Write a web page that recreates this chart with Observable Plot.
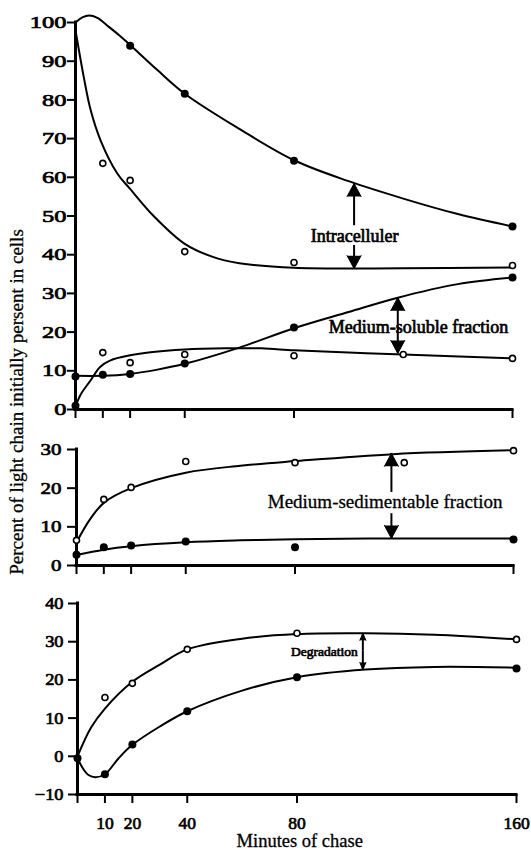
<!DOCTYPE html>
<html><head><meta charset="utf-8">
<script src="https://cdn.jsdelivr.net/npm/d3@7"></script>
<script src="https://cdn.jsdelivr.net/npm/@observablehq/plot@0.6"></script>
<style>
body{margin:0;background:#fff;}
#wrap{position:relative;width:531px;height:852px;font-family:"Liberation Serif",serif;overflow:hidden;}
.panel{position:absolute;left:0;}
.panel svg text{font-family:"Liberation Serif","Times New Roman",serif !important;font-weight:normal !important;}
.panel svg g[aria-label="y-axis tick label"] text,
.panel svg g[aria-label="x-axis tick label"] text{stroke:#000;stroke-width:0.7px;}
.panel svg .boldish text{stroke:#000;stroke-width:0.7px;}
#ytitle{position:absolute;left:17px;top:402px;transform:translate(-50%,-50%) rotate(-90deg);white-space:nowrap;font-size:19px;color:#000;-webkit-text-stroke:0.3px #000;}
</style></head><body>
<div id="wrap">
<div id="p1" class="panel" style="top:0px"></div>
<div id="p2" class="panel" style="top:430px"></div>
<div id="p3" class="panel" style="top:580px"></div>
<div id="ytitle">Percent of light chain initially persent in cells</div>
</div>
<script>
// ---------- data (minutes, percent) ----------
const xTicks = [0, 10, 20, 40, 80, 160];
const xTickLabels = [10, 20, 40, 80, 160];
const yTicks1 = [0, 10, 20, 30, 40, 50, 60, 70, 80, 90, 100];
const yTicks2 = [0, 10, 20, 30];
const yTicks3 = [-10, 0, 10, 20, 30, 40];

// Panel 1: intracellular
const intraFilledDots = [[20, 94], [40, 81.6], [80, 64.3], [160, 47.3]];
const intraOpenDots = [[10, 63.6], [20, 59.2], [40, 40.8], [80, 38], [160, 37.2]];
const intraFilledCurve = [[0, 100], [2.5, 101.3], [5, 101.8], [8, 101.2], [12, 99], [16, 96.7], [20, 94.2], [30, 87.7], [40, 81.6], [60, 72.5], [80, 64.4], [100, 59], [120, 54.5], [140, 50.5], [160, 47.3]];
const intraOpenCurve = [[0, 98], [3, 86], [5.5, 77.5], [9.2, 69.5], [15.3, 61], [20, 57], [28.6, 50], [40, 42.8], [50, 39.5], [60, 37.8], [80, 36.6], [120, 36.5], [160, 36.7]];
// Panel 1: medium-soluble
const solubleFilledDots = [[0, 8.5], [10, 9.0], [20, 9.2], [40, 11.9], [80, 21.2], [160, 34.1], [0, 1.0]];
const solubleOpenDots = [[10, 14.7], [20, 12.1], [40, 14.2], [80, 13.9], [120, 14.2], [160, 13.2]];
const solubleFilledCurve = [[0, 8.7], [10, 8.7], [20, 9.2], [30, 10.3], [40, 11.8], [60, 16], [80, 21], [100, 25.2], [118, 28.9], [140, 32.4], [160, 34.1]];
const solubleOpenCurve = [[0, 0.8], [2, 4], [5.5, 7.5], [9, 11], [12.8, 12.7], [20, 14], [27.5, 14.8], [40, 15.5], [55, 15.8], [68, 15.8], [80, 15.3], [100, 14.7], [120, 14.2], [160, 13.2]];

// Panel 2: medium-sedimentable
const sedOpenDots = [[0, 6.5], [10, 17.1], [20, 20.2], [40, 26.9], [80, 26.6], [120, 26.6], [160, 29.7]];
const sedFilledDots = [[0, 2.8], [10, 4.7], [20, 5.2], [40, 6.2], [80, 4.7], [160, 6.7]];
const sedOpenCurve = [[0, 6], [5, 12], [10, 16.2], [20, 20], [40, 24], [60, 25.8], [80, 27], [116, 28.8], [160, 29.8]];
const sedFilledCurve = [[0, 2.7], [10, 4.1], [20, 5], [40, 6], [60, 6.5], [80, 6.8], [120, 7], [160, 7]];

// Panel 3: degradation
const degOpenDots = [[10, 15.4], [20, 19.1], [40, 28.0], [80, 32.2], [160, 30.6]];
const degFilledDots = [[0, -0.5], [10, -4.7], [20, 3.1], [40, 11.8], [80, 20.7], [160, 23.0]];
const degOpenCurve = [[0, 0], [5, 7.6], [10, 12.5], [20, 19.5], [30, 24], [40, 28], [60, 30.8], [80, 32], [105, 32.2], [130, 31.8], [160, 30.6]];
const degFilledCurve = [[0, -0.5], [2, -3.2], [4, -4.9], [6.5, -5.5], [10, -4.7], [15, -0.5], [20, 3], [30, 7.8], [40, 11.8], [60, 17.2], [80, 20.7], [105, 22.7], [130, 23.4], [160, 23.2]];

// annotation arrows: [minute, shaft start, tip]
const arrows1 = [[102, 47.5, 58.4], [102, 42.4, 36.4], [118, 21.6, 28.9], [118, 21.6, 14.5]];
const arrows2 = [[115.3, 18.9, 29.0], [115.3, 13.4, 7.0]];
const arrows3 = [[104, 27.5, 32.2], [104, 27.5, 22.7]];
const labels1 = [[102.2, 44.7, "Intracelluler"], [125.6, 21.2, "Medium-soluble fraction"]];
const labels2 = [[113, 16.5, "Medium-sedimentable fraction"]];
const labels3 = [[90, 27.5, "Degradation"]];

const FONT = "Liberation Serif";
const X = d => d[0], Y = d => d[1];

function dots(filled, open) {
  return [
    Plot.dot(filled, {x: X, y: Y, r: 4, fill: "black", stroke: "none"}),
    Plot.dot(open, {x: X, y: Y, r: 3, fill: "white", stroke: "black", strokeWidth: 1.6})
  ];
}
function curves(list) {
  return list.map(c => Plot.line(c, {x: X, y: Y, curve: "catmull-rom", stroke: "black", strokeWidth: 2}));
}
function arrowMarks(arr, headLen, headR) {
  return [
    Plot.ruleX(arr, {x: d => d[0], y1: d => d[1], y2: d => d[2], stroke: "black", strokeWidth: 2}),
    Plot.vector(arr, {x: d => d[0], y: d => d[2], length: headLen, r: headR, shape: "spike", anchor: "end",
      rotate: d => d[2] > d[1] ? 0 : 180, fill: "black", stroke: "black", strokeWidth: 1})
  ];
}
function frame(yDomain, yTicks, ytickSize, ytickPad, yFont) {
  return [
    Plot.axisY({ticks: yTicks, tickSize: ytickSize, tickPadding: ytickPad, strokeWidth: 2, fontFamily: FONT, fontSize: yFont, label: null}),
    Plot.ruleX([0], {y1: yDomain[0], y2: yDomain[1], stroke: "black", strokeWidth: 3, strokeLinecap: "square"}),
    Plot.ruleY([yDomain[0]], {x1: 0, x2: 160, stroke: "black", strokeWidth: 3, strokeLinecap: "square"})
  ];
}
function stretch(svg, sx) {
  svg.querySelectorAll('g[aria-label="y-axis tick label"] text').forEach(t => {
    const x = +(t.getAttribute("x") || 0);
    const tr = t.getAttribute("transform") || "";
    t.setAttribute("transform", tr + ` translate(${x},0) scale(${sx},1) translate(${-x},0)`);
  });
}

// ---------- panel 1 ----------
const p1 = Plot.plot({
  width: 531, height: 430, marginLeft: 75, marginRight: 19, marginTop: 22, marginBottom: 21,
  x: {domain: [0, 160]}, y: {domain: [0, 100]},
  style: {fontFamily: FONT, fontSize: "17px", background: "white", overflow: "visible", color: "black"},
  marks: [
    Plot.axisX({ticks: xTicks, tickSize: 9, strokeWidth: 2, text: null, label: null}),
    ...frame([0, 100], yTicks1, 8, 1, 17.5),
    ...curves([intraFilledCurve, intraOpenCurve, solubleFilledCurve, solubleOpenCurve]),
    ...arrowMarks(arrows1, 13, 7),
    Plot.text(labels1, {x: d => d[0], y: d => d[1], text: d => d[2], fontFamily: FONT, fontSize: 18, fill: "black", className: "boldish"}),
    ...dots(intraFilledDots.concat(solubleFilledDots), intraOpenDots.concat(solubleOpenDots))
  ]
});
stretch(p1, 1.4);
document.getElementById("p1").append(p1);

// ---------- panel 2 ----------
const p2 = Plot.plot({
  width: 531, height: 150, marginLeft: 76, marginRight: 18, marginTop: 19, marginBottom: 15,
  x: {domain: [0, 160]}, y: {domain: [0, 30]},
  style: {fontFamily: FONT, fontSize: "17px", background: "transparent", overflow: "visible", color: "black"},
  marks: [
    Plot.axisX({ticks: xTicks, tickSize: 9, strokeWidth: 2, text: null, label: null}),
    ...frame([0, 30], yTicks2, 9, 6, 17.5),
    ...curves([sedOpenCurve, sedFilledCurve]),
    ...arrowMarks(arrows2, 13, 7),
    Plot.text(labels2, {x: d => d[0], y: d => d[1], text: d => d[2], fontFamily: FONT, fontSize: 19, fill: "black", stroke: "black", strokeWidth: 0.3}),
    ...dots(sedFilledDots, sedOpenDots)
  ]
});
stretch(p2, 1.2);
document.getElementById("p2").append(p2);

// ---------- panel 3 ----------
const p3 = Plot.plot({
  width: 531, height: 272, marginLeft: 77, marginRight: 15, marginTop: 23, marginBottom: 58,
  x: {domain: [0, 160]}, y: {domain: [-10, 40]},
  style: {fontFamily: FONT, fontSize: "17px", background: "transparent", overflow: "visible", color: "black"},
  marks: [
    Plot.axisX({ticks: xTicks, tickSize: 9, strokeWidth: 2, text: null, label: null}),
    Plot.axisX({ticks: xTickLabels, tickSize: 0, tickPadding: 22, fontFamily: FONT, fontSize: 17.5, label: null}),
    ...frame([-10, 40], yTicks3, 9, 5, 17),
    ...curves([degOpenCurve, degFilledCurve]),
    ...arrowMarks(arrows3, 7, 3),
    Plot.text(labels3, {x: d => d[0], y: d => d[1], text: d => d[2], fontFamily: FONT, fontSize: 13.5, fill: "black", className: "boldish"}),
    Plot.text(["Minutes of chase"], {x: 81, frameAnchor: "bottom", lineAnchor: "middle", dy: 47, fontFamily: FONT, fontSize: 18.5, fill: "black", stroke: "black", strokeWidth: 0.3}),
    ...dots(degFilledDots, degOpenDots)
  ]
});
stretch(p3, 1.08);
document.getElementById("p3").append(p3);
</script>
</body></html>
